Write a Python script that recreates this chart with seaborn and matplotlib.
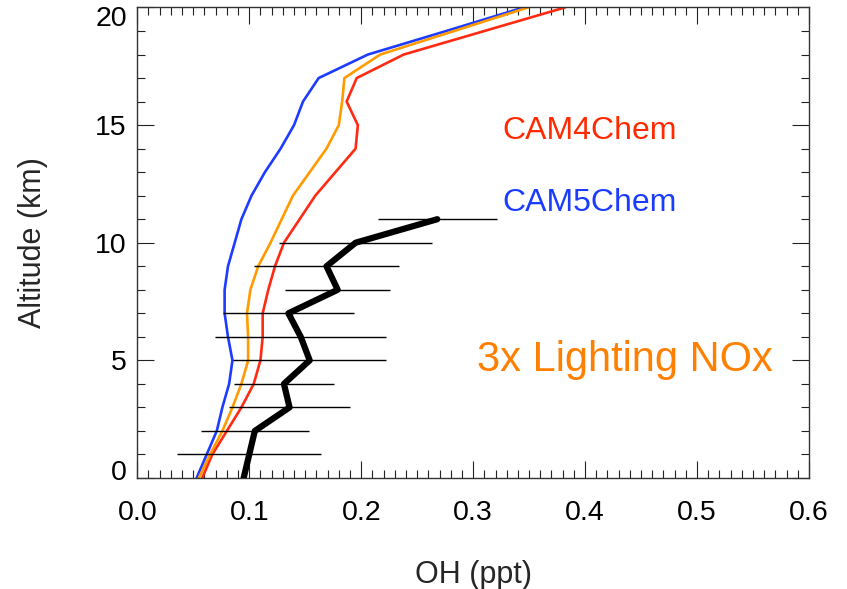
import matplotlib
matplotlib.use("Agg")
import matplotlib.pyplot as plt
import matplotlib.transforms as mtrans
from matplotlib.ticker import MultipleLocator, FormatStrFormatter
import pandas as pd
import seaborn as sns

# altitude grid for the model profiles (km)
alt_model = list(range(0, 21))

# OH (ppt) profiles
cam4chem = [0.058, 0.067, 0.080, 0.093, 0.104, 0.110, 0.112, 0.112, 0.117, 0.123,
            0.131, 0.145, 0.159, 0.177, 0.195, 0.197, 0.187, 0.196, 0.238, 0.310, 0.382]
cam5chem = [0.053, 0.062, 0.071, 0.076, 0.082, 0.085, 0.081, 0.078, 0.078, 0.081,
            0.087, 0.093, 0.102, 0.114, 0.128, 0.140, 0.148, 0.162, 0.206, 0.276, 0.345]
lnox3x = [0.055, 0.065, 0.076, 0.085, 0.093, 0.099, 0.099, 0.098, 0.101, 0.108,
          0.119, 0.129, 0.139, 0.154, 0.169, 0.180, 0.183, 0.185, 0.217, 0.283, 0.349]

# observations with horizontal spread
alt_obs = [0, 1, 2, 3, 4, 5, 6, 7, 8, 9, 10, 11]
oh_obs = [0.095, 0.100, 0.105, 0.136, 0.131, 0.154, 0.146, 0.135, 0.179, 0.169, 0.195, 0.268]
oh_err = [0.0, 0.0645, 0.048, 0.054, 0.045, 0.0685, 0.0765, 0.0585, 0.047, 0.065, 0.068, 0.053]

sns.set_style("white")
plt.rcParams["font.family"] = ["Liberation Sans", "DejaVu Sans"]

fig = plt.figure(figsize=(8.47, 5.89), dpi=100)
ax = fig.add_axes([0.1621, 0.1885, 0.7930, 0.7988])

models = pd.DataFrame({"alt": alt_model, "cam4": cam4chem, "cam5": cam5chem, "lnox": lnox3x})
obs = pd.DataFrame({"alt": alt_obs, "oh": oh_obs, "err": oh_err})

sns.lineplot(data=models, x="cam4", y="alt", sort=False, estimator=None,
             color="#ff2a12", lw=1.9, ax=ax)
sns.lineplot(data=models, x="cam5", y="alt", sort=False, estimator=None,
             color="#1e3cff", lw=1.9, ax=ax)
sns.lineplot(data=models, x="lnox", y="alt", sort=False, estimator=None,
             color="#ff9a00", lw=1.9, ax=ax)

bars = obs[obs["err"] > 0]
ax.errorbar(bars["oh"], bars["alt"], xerr=bars["err"], fmt="none",
            ecolor="black", elinewidth=1.0, capsize=0, zorder=3)
sns.lineplot(data=obs, x="oh", y="alt", sort=False, estimator=None,
             color="black", lw=4.5, ax=ax, zorder=4)

ax.text(0.3265, 14.39, "CAM4Chem", color="#ff2a00", fontsize=23, va="baseline")
ax.text(0.3265, 11.34, "CAM5Chem", color="#1a3cff", fontsize=23, va="baseline")
ax.text(0.3038, 4.556, "3x Lighting NOx", color="#ff8000", fontsize=30, va="baseline")

ax.set_xlim(0, 0.6)
ax.set_ylim(0, 20)
ax.xaxis.set_major_locator(MultipleLocator(0.1))
ax.xaxis.set_minor_locator(MultipleLocator(0.01))
ax.xaxis.set_major_formatter(FormatStrFormatter("%.1f"))
ax.yaxis.set_major_locator(MultipleLocator(5))
ax.yaxis.set_minor_locator(MultipleLocator(1))

ax.tick_params(which="both", direction="in", top=True, right=True,
               bottom=True, left=True, width=0.8, colors="#222222",
               labelcolor="black", labelsize=20.5)
ax.tick_params(which="major", length=12.5)
ax.tick_params(which="minor", length=6)
ax.tick_params(axis="x", pad=16)
ax.tick_params(axis="y", pad=7.5)

for sp in ax.spines.values():
    sp.set_linewidth(1.0)
    sp.set_color("#333333")

ax.set_xlabel("OH (ppt)", fontsize=22, labelpad=24)
ax.set_ylabel("Altitude (km)", fontsize=22, labelpad=34)

# end labels on the y axis sit inside the axis range, as in the original
fig.canvas.draw()
for tick in ax.yaxis.get_major_ticks():
    loc = tick.get_loc()
    if abs(loc - 0) < 1e-6:
        shift = 8
    elif abs(loc - 20) < 1e-6:
        shift = -8.5
    else:
        continue
    tick.label1.set_transform(tick.label1.get_transform()
                              + mtrans.ScaledTranslation(0, shift / 100, fig.dpi_scale_trans))

fig.savefig("out.png", dpi=100)
